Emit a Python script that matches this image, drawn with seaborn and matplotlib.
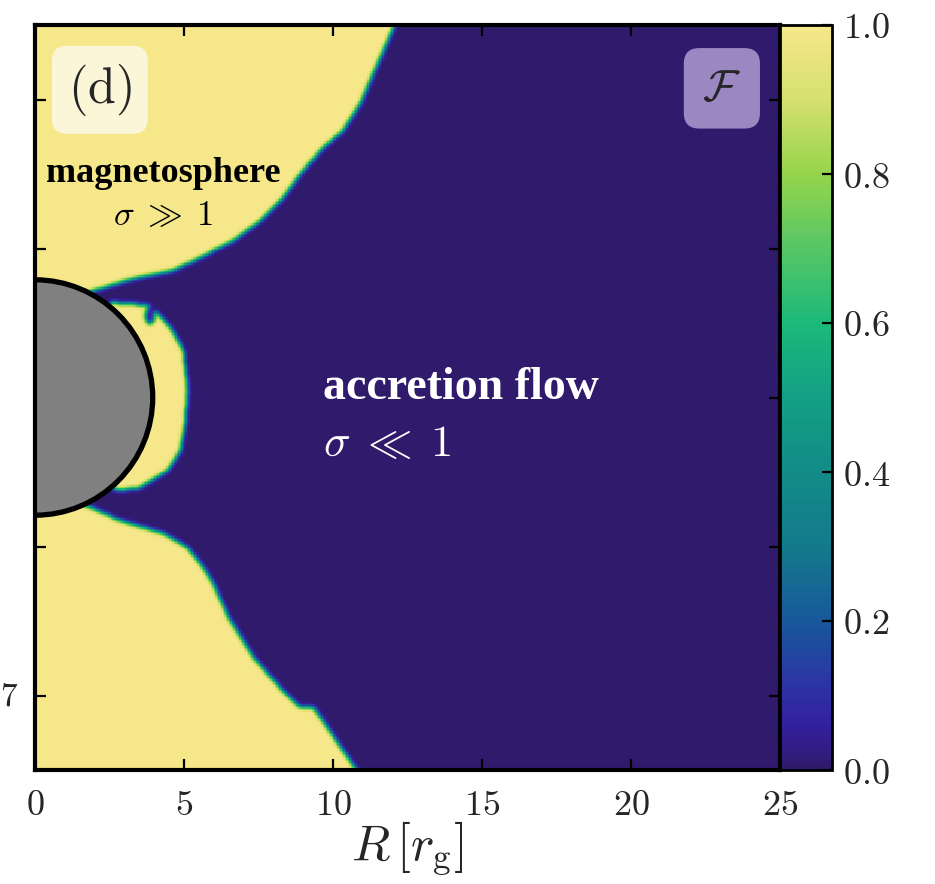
import numpy as np
import matplotlib
matplotlib.use("Agg")
import matplotlib.pyplot as plt
import seaborn as sns
from matplotlib.path import Path
from matplotlib.colors import LinearSegmentedColormap
from matplotlib.patches import Circle

sns.set_style("ticks")
plt.rcParams["font.family"] = ["DejaVu Serif"]
plt.rcParams["mathtext.fontset"] = "cm"

# ---------------- data ----------------
R_MAX = 25.0
Z_HALF = 12.5
x_ticks = [0, 5, 10, 15, 20, 25]
z_ticks = [10, 5, 0, -5, -10]
cbar_ticks = [0.0, 0.2, 0.4, 0.6, 0.8, 1.0]
horizon_radius = 3.95

# upper magnetosphere boundary (R, z) in r_g
upper_R = [12.05, 11.64, 11.24, 10.91, 10.34, 9.66, 8.99, 8.32, 7.55, 6.64, 5.54, 4.63, 3.29, 2.18]
upper_z = [12.50, 11.54, 10.64, 9.87, 8.96, 8.39, 7.62, 6.71, 5.94, 5.27, 4.70, 4.26, 3.99, 3.66]

# lower magnetosphere boundary
lower_R = [1.85, 2.85, 4.30, 5.10, 5.64, 5.97, 6.54, 7.32, 8.22, 8.89, 9.33, 9.80, 10.34, 10.74, 10.80]
lower_z = [-3.69, -4.13, -4.56, -5.03, -5.70, -6.24, -7.48, -8.72, -9.73, -10.40, -10.40, -11.07, -11.85, -12.42, -12.50]

# outer edge of the magnetised crescent hugging the horizon
crescent_R = [2.58, 3.86, 4.53, 4.97, 5.13, 5.03, 4.87, 4.43, 3.52, 2.75]
crescent_z = [3.19, 3.09, 2.35, 1.58, 0.23, -0.87, -1.78, -2.45, -3.02, -3.12]

# small low-F bubble inside the crescent: centre R, centre z, width, height
bubble = [3.86, 2.75, 0.28, 0.62]

cmap_pos = [0.0, 0.06, 0.12, 0.2, 0.3, 0.4, 0.5, 0.6, 0.7, 0.8, 0.9, 1.0]
cmap_hex = ["#2f1a6b", "#3320a0", "#2c36a4", "#17599a", "#137a8b", "#128c87",
            "#12a084", "#1cb97a", "#55c666", "#94d44c", "#d5e06e", "#f6e78b"]

# ---------------- build the field ----------------
N = 500
d = 2 * Z_HALF / N
xc = (np.arange(N) + 0.5) * (R_MAX / N)
zc = Z_HALF - (np.arange(N) + 0.5) * d
XX, ZZ = np.meshgrid(xc, zc)
pts = np.column_stack([XX.ravel(), ZZ.ravel()])

up_poly = [(0, Z_HALF)] + list(zip(upper_R, upper_z)) + [(0, 3.0)]
lo_poly = [(0, -3.0)] + list(zip(lower_R, lower_z)) + [(0, -Z_HALF)]
cr_poly = list(zip(crescent_R, crescent_z)) + [(0, 0)]

inside = np.zeros(len(pts), bool)
for poly in (up_poly, lo_poly, cr_poly):
    inside |= Path(poly).contains_points(pts)
F = inside.reshape(N, N).astype(float)
bx, bz, bw, bh = bubble
F[((XX - bx) / (bw / 2)) ** 2 + ((ZZ - bz) / (bh / 2)) ** 2 < 1] = 0.0


def blur(a, s):
    r = int(3 * s) + 1
    k = np.exp(-0.5 * (np.arange(-r, r + 1) / s) ** 2)
    k /= k.sum()
    p = np.pad(a, ((r, r), (0, 0)), mode="edge")
    a = sum(k[i] * p[i:i + a.shape[0], :] for i in range(2 * r + 1))
    p = np.pad(a, ((0, 0), (r, r)), mode="edge")
    a = sum(k[i] * p[:, i:i + a.shape[1]] for i in range(2 * r + 1))
    return a


F = np.clip(blur(F, 1.6), 0, 1)

cmap = LinearSegmentedColormap.from_list("fcm", list(zip(cmap_pos, cmap_hex)))

# ---------------- figure ----------------
W, H = 935, 884
fig = plt.figure(figsize=(W / 100, H / 100), dpi=100)
ax = fig.add_axes([35 / W, 1 - 770 / H, 745 / W, 745 / H])
cax = fig.add_axes([780 / W, 1 - 770 / H, 52 / W, 745 / H])

sns.heatmap(F, ax=ax, cmap=cmap, vmin=0, vmax=1, cbar_ax=cax,
            xticklabels=False, yticklabels=False, rasterized=True)

sc = N / R_MAX  # cells per r_g
ax.set_xlim(0, N)
ax.set_ylim(N, 0)
ax.set_axisbelow(False)
cax.set_axisbelow(False)
for s in ax.spines.values():
    s.set_visible(True)
    s.set_linewidth(3.0)
    s.set_color("black")
    s.set_zorder(5)

ax.set_xticks([t * sc for t in x_ticks])
ax.set_xticklabels([f"${t}$" for t in x_ticks])
ax.set_yticks([(Z_HALF - z) * sc for z in z_ticks])
ax.set_yticklabels([])
ax.tick_params(axis="both", direction="in", length=8, width=1.6,
               top=True, right=True, bottom=True, left=True, color="black")
ax.tick_params(axis="x", labelsize=26, pad=13)
ax.set_xlabel(r"$R\,[r_{\rm g}]$", fontsize=36, labelpad=-2)

# horizon
ax.add_patch(Circle((0, Z_HALF * sc), horizon_radius * sc, facecolor="#808080",
                    edgecolor="black", linewidth=3.8, zorder=4, clip_on=True))

# colorbar styling
cb = ax.collections[0].colorbar
cb.outline.set_visible(True)
cb.outline.set_linewidth(2.0)
cb.outline.set_edgecolor("black")
cb.set_ticks(cbar_ticks)
cb.set_ticklabels([f"${v:.1f}$" for v in cbar_ticks])
cax.tick_params(axis="y", direction="in", length=7, width=1.6, right=True,
                left=False, labelsize=26, pad=8, color="black")

# annotations
ax.text(0.087, 0.913, r"$\mathrm{(d)}$", transform=ax.transAxes, fontsize=36,
        ha="center", va="center", zorder=6,
        bbox=dict(boxstyle="round,pad=0.32,rounding_size=0.3", fc="#fcf6d8", ec="none"))
ax.text(0.922, 0.915, r"$\mathcal{F}$", transform=ax.transAxes, fontsize=32,
        ha="center", va="center", zorder=6,
        bbox=dict(boxstyle="round,pad=0.42,rounding_size=0.35", fc="#9b88c2", ec="none"))

ax.text(0.172, 0.801, "magnetosphere", transform=ax.transAxes,
        family=["Liberation Serif", "DejaVu Serif"], fontweight="bold",
        fontsize=26, ha="center", va="center", color="black", zorder=6)
ax.text(0.172, 0.745, r"$\sigma\;\gg\;1$", transform=ax.transAxes, fontsize=25,
        ha="center", va="center", color="black", zorder=6)
ax.text(0.387, 0.513, "accretion flow", transform=ax.transAxes,
        family=["Liberation Serif", "DejaVu Serif"], fontweight="bold",
        fontsize=33, ha="left", va="center", color="white", zorder=6)
ax.text(0.387, 0.439, r"$\sigma\;\ll\;1$", transform=ax.transAxes, fontsize=32,
        ha="left", va="center", color="white", zorder=6)

# fragment of a neighbouring panel's tick label
fig.text(0.0, 1 - 697 / H, "$7$", fontsize=24, ha="left", va="center")

fig.savefig("out.png", dpi=100)
